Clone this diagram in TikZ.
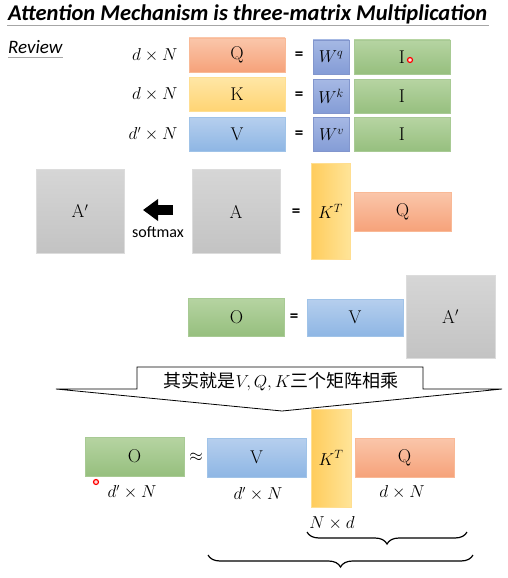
\documentclass[tikz,border=0pt]{standalone}
\usepackage{fontspec}
\setsansfont{Carlito}
\newfontfamily\cjkfont{Noto Sans CJK SC}
\usetikzlibrary{arrows.meta,positioning,decorations.pathreplacing}

\definecolor{qtop}{RGB}{250,198,170}
\definecolor{qbot}{RGB}{246,162,122}
\definecolor{qline}{RGB}{249,185,150}
\definecolor{ktop}{RGB}{255,230,165}
\definecolor{kbot}{RGB}{255,212,115}
\definecolor{kline}{RGB}{255,222,145}
\definecolor{vtop}{RGB}{182,207,238}
\definecolor{vbot}{RGB}{142,182,228}
\definecolor{vline}{RGB}{160,195,232}
\definecolor{wtop}{RGB}{165,184,228}
\definecolor{wbot}{RGB}{132,156,214}
\definecolor{wline}{RGB}{130,150,205}
\definecolor{itop}{RGB}{182,212,162}
\definecolor{ibot}{RGB}{150,191,126}
\definecolor{iline}{RGB}{168,202,148}
\definecolor{atop}{RGB}{214,214,214}
\definecolor{abot}{RGB}{195,195,195}
\definecolor{aline}{RGB}{220,220,220}
\definecolor{ktleft}{RGB}{255,204,92}
\definecolor{ktright}{RGB}{255,228,152}

\begin{document}
\begin{tikzpicture}[x=1pt, y=-1pt,
  node distance=11pt,
  mat/.style={inner sep=0pt, line width=.6pt, font=\fontsize{18.5}{22}\selectfont},
  wide/.style={minimum width=96pt, minimum height=34pt},
  qmat/.style={mat, wide, draw=qline, top color=qtop, bottom color=qbot},
  kmat/.style={mat, wide, draw=kline, top color=ktop, bottom color=kbot},
  vmat/.style={mat, wide, draw=vline, top color=vtop, bottom color=vbot},
  wmat/.style={mat, minimum width=36pt, minimum height=34pt, draw=wline, top color=wtop, bottom color=wbot,
               font=\fontsize{17}{20}\selectfont},
  imat/.style={mat, wide, draw=iline, top color=itop, bottom color=ibot},
  amat/.style={mat, minimum width=88pt, minimum height=84pt, draw=aline, top color=atop, bottom color=abot},
  ktmat/.style={mat, minimum width=39pt, minimum height=96pt, draw=kline, left color=ktleft, right color=ktright},
  dim/.style={inner sep=0pt, font=\fontsize{16}{19}\selectfont},
  eq/.style={inner sep=0pt, font=\sffamily\bfseries\fontsize{17}{20}\selectfont},
  dot/.style={circle, inner sep=0pt, minimum size=5pt, draw=red, line width=1.2pt, fill=red!15},
]
  \useasboundingbox (0,0) rectangle (508,578);

  % title
  \node[anchor=base west, inner sep=0pt, font=\sffamily\bfseries\itshape\fontsize{22.5}{26}\selectfont]
    (title) at (8,21) {Attention Mechanism is three-matrix Multiplication};
  \draw[gray!70, line width=1pt] ([xshift=-1pt,yshift=-4.5pt]title.base west) -- ([xshift=2pt,yshift=-4.5pt]title.base east);
  \node[anchor=base west, inner sep=0pt, font=\sffamily\itshape\fontsize{19}{22}\selectfont]
    (review) at (8,54) {Review};
  \draw[gray!70, line width=1pt] ([yshift=-3.5pt]review.base west) -- ([yshift=-3.5pt]review.base east);

  % Q, K, V from I
  \node[qmat] (q1) at (237,55) {Q};
  \node[kmat] (k1) at (237,94.5) {K};
  \node[vmat] (v1) at (237,134) {V};
  \node[dim, left=of q1] {$d\times N$};
  \node[dim, left=of k1] {$d\times N$};
  \node[dim, left=of v1] {$d'\times N$};
  \node[eq] at (299,56) {=};
  \node[eq] at (299,96) {=};
  \node[eq] at (299,135) {=};
  \node[wmat] (wq) at (331,57) {$W^q$};
  \node[wmat] (wk) at (331,96.5) {$W^k$};
  \node[wmat] (wv) at (331.5,134.5) {$W^v$};
  \node[imat] (iq) at (402,57) {I};
  \node[imat] (ik) at (402,96.5) {I};
  \node[imat] (iv) at (402,134.5) {I};
  \node[dot] (dot1) at (410,60) {};

  % attention matrix
  \node[amat] (ap1) at (80,211) {$\mathrm{A}'$};
  \coordinate (smtail) at (173,210);
  \coordinate (smhead) at (143,210);
  \draw[line width=10pt, -{Triangle[length=15pt,width=21pt]}] (smtail) -- (smhead);
  \node[inner sep=0pt, font=\sffamily\fontsize{16}{19}\selectfont] (sm) at (158,232) {softmax};
  \node[amat] (a) at (236,211.5) {A};
  \node[eq] at (296,213) {=};
  \node[ktmat] (kt1) at (330.5,211.5) {$K^T$};
  \node[qmat, minimum width=97pt, minimum height=39pt] (q2) at (402.5,211.5) {Q};

  % output
  \node[imat, minimum height=38pt] (o1) at (236.5,317) {O};
  \node[eq] at (294,318) {=};
  \node[vmat, minimum height=37pt] (v2) at (355,317.5) {V};
  \node[amat, minimum width=89pt, minimum height=83pt] (ap2) at (450.5,316.5) {$\mathrm{A}'$};

  % callout
  \draw[line width=.8pt, fill=white] (137,367) -- (423,367) -- (423,389) -- (502,389)
    -- (282,411) -- (56,389) -- (137,389) -- cycle;
  \node[inner sep=0pt, font=\fontsize{18}{21}\selectfont] (note) at (281,382)
    {{\cjkfont 其实就是}$V,Q,K${\cjkfont 三个矩阵相乘}};

  % three matrices
  \node[imat, minimum width=99pt, minimum height=39pt] (o2) at (134.5,456.5) {O};
  \node[dim, font=\fontsize{18}{21}\selectfont] at (196,457) {$\approx$};
  \node[vmat, minimum width=99pt, minimum height=39pt] (v3) at (256.5,457.5) {V};
  \node[ktmat, minimum width=40pt, minimum height=98pt] (kt2) at (331,458) {$K^T$};
  \node[qmat, minimum width=99pt, minimum height=39pt] (q3) at (404.5,457.5) {Q};
  \node[dim] at (132,492) {$d'\times N$};
  \node[dim] at (258,494) {$d'\times N$};
  \node[dim] at (402,492) {$d\times N$};
  \node[dim] at (332,523) {$N\times d$};
  \node[dot] (dot2) at (96,482) {};

  \coordinate (b1l) at (307,532);
  \coordinate (b1r) at (467,532);
  \coordinate (b2l) at (208,555);
  \coordinate (b2r) at (473,555);
  \draw[line width=1.2pt, decorate, decoration={brace, mirror, amplitude=12pt}] (b1l) -- (b1r);
  \draw[line width=1.2pt, decorate, decoration={brace, mirror, amplitude=12pt}] (b2l) -- (b2r);
\end{tikzpicture}
\end{document}
